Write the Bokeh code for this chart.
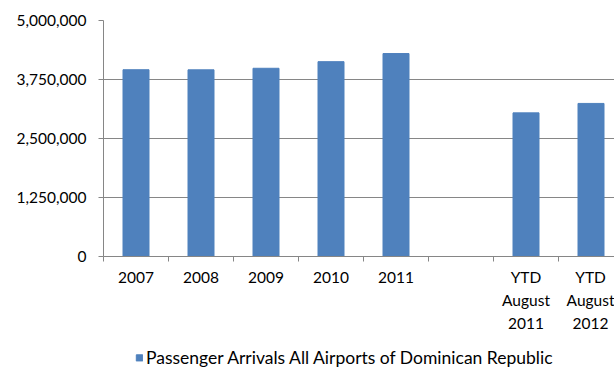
from bokeh.plotting import figure
from bokeh.layouts import column
from bokeh.models import (Range1d, FixedTicker, NumeralTickFormatter, Legend, LegendItem,
                          ColumnDataSource)
from bokeh.embed import file_html
from bokeh.resources import INLINE

categories = ["2007", "2008", "2009", "2010", "2011", "", "YTD\nAugust\n2011", "YTD\nAugust\n2012"]
values = [3957000, 3955000, 3988000, 4128000, 4300000, None, 3043000, 3243000]
y_ticks = [0, 1250000, 2500000, 3750000, 5000000]
series_name = "Passenger Arrivals All Airports of Dominican Republic"

FONT = "Lato"
BLUE = "#4F81BD"
GRID = "#868686"

xs = [i + 0.5 for i, v in enumerate(values) if v is not None]
tops = [v for v in values if v is not None]
src = ColumnDataSource(dict(x=xs, top=tops))

p = figure(width=614, height=335, output_backend="svg", toolbar_location=None,
           x_range=Range1d(0, 511 / 65), y_range=Range1d(0, 5000000),
           min_border_left=103, min_border_top=20, min_border_right=0, min_border_bottom=79)
p.outline_line_color = None
p.background_fill_color = "white"
p.border_fill_color = "white"

r = p.vbar(x="x", top="top", width=0.4, source=src, fill_color=BLUE, line_color=BLUE)

p.xgrid.grid_line_color = None
p.ygrid.grid_line_color = GRID
p.ygrid.ticker = FixedTicker(ticks=y_ticks)

yax = p.yaxis[0]
yax.ticker = FixedTicker(ticks=y_ticks)
yax.formatter = NumeralTickFormatter(format="0,0")
yax.axis_line_color = GRID
yax.major_tick_line_color = GRID
yax.major_tick_out = 5
yax.major_tick_in = 0
yax.minor_tick_line_color = None
yax.major_label_standoff = 12
yax.major_label_text_font = FONT
yax.major_label_text_font_size = "15.5px"
yax.major_label_text_color = "black"

xax = p.xaxis[0]
centers = [i + 0.5 for i in range(len(categories))]
bounds = [float(i) for i in range(len(categories) + 1)]
xax.ticker = FixedTicker(ticks=centers, minor_ticks=bounds)
xax.major_label_overrides = {c: lab for c, lab in zip(centers, categories)}
xax.axis_line_color = GRID
xax.major_tick_line_color = None
xax.minor_tick_line_color = GRID
xax.minor_tick_out = 5
xax.minor_tick_in = 0
xax.major_label_standoff = 5
xax.major_label_text_font = FONT
xax.major_label_text_font_size = "15.5px"
xax.major_label_text_color = "black"
xax.major_label_text_line_height = 1.3

# legend strip under the chart
p2 = figure(width=614, height=33, output_backend="svg", toolbar_location=None,
            x_range=Range1d(0, 1), y_range=Range1d(0, 1),
            x_axis_location=None, y_axis_location=None,
            min_border_left=103, min_border_top=11, min_border_right=0, min_border_bottom=0)
p2.outline_line_color = None
p2.xgrid.grid_line_color = None
p2.ygrid.grid_line_color = None
r2 = p2.vbar(x=[10], top=[1], width=0.4, fill_color=BLUE, line_color=BLUE)

legend = Legend(items=[LegendItem(label=series_name, renderers=[r2])],
                orientation="horizontal", location="left",
                border_line_color=None, background_fill_alpha=0,
                glyph_width=8, glyph_height=8, label_standoff=3,
                padding=0, margin=32, spacing=0, label_height=20,
                label_text_font=FONT, label_text_font_size="17.5px", label_text_color="black")
p2.add_layout(legend, "center")

open("out.html", "w").write(file_html(column(p, p2, spacing=0), INLINE))
